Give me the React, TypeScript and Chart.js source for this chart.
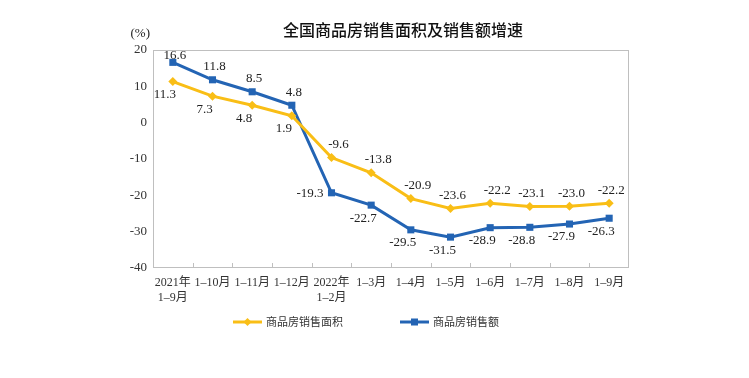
import React, { useEffect, useRef } from 'react';
import { Chart, registerables } from 'chart.js';

Chart.register(...registerables);

// ---- data ----
const categories: (string | string[])[] = [
  ['2021年', '1–9月'], '1–10月', '1–11月', '1–12月', ['2022年', '1–2月'],
  '1–3月', '1–4月', '1–5月', '1–6月', '1–7月', '1–8月', '1–9月',
];
const areaGrowth = [11.3, 7.3, 4.8, 1.9, -9.6, -13.8, -20.9, -23.6, -22.2, -23.1, -23.0, -22.2];
const salesGrowth = [16.6, 11.8, 8.5, 4.8, -19.3, -22.7, -29.5, -31.5, -28.9, -28.8, -27.9, -26.3];
const seriesNames = ['商品房销售面积', '商品房销售额'];
const yMin = -40;
const yMax = 20;
const yStep = 10;
const titleText = '全国商品房销售面积及销售额增速';
const unitText = '(%)';

// label placement codes (style, not data)
const areaPlacement = ['bl', 'bl', 'bl', 'bl', 'ar', 'ar', 'ar', 'a', 'ar', 'a', 'a', 'a'];
const salesPlacement = ['at', 'a', 'a', 'a', 'l', 'bl', 'bl', 'bl', 'bl', 'bl', 'bl', 'bl'];

const YELLOW = '#F9BE16';
const BLUE = '#2364B4';
const AXIS = '#BFBFBF';
const TEXT = '#222222';
const SERIF = '"Liberation Serif", "Noto Sans CJK SC", serif';

const decorPlugin = {
  id: 'decor',
  beforeDatasetsDraw(chart: any) {
    const { ctx, chartArea } = chart;
    const { left, right, top, bottom } = chartArea;
    ctx.save();
    ctx.strokeStyle = AXIS;
    ctx.lineWidth = 1;
    ctx.strokeRect(left + 0.5, top + 0.5, right - left - 1, bottom - top - 1);
    const xs = chart.scales.x;
    ctx.beginPath();
    for (let i = 1; i < categories.length; i++) {
      const x = Math.round((xs.getPixelForTick(i - 1) + xs.getPixelForTick(i)) / 2) + 0.5;
      ctx.moveTo(x, bottom);
      ctx.lineTo(x, bottom - 5);
    }
    ctx.stroke();
    ctx.restore();
  },
  afterDatasetsDraw(chart: any) {
    const { ctx } = chart;
    ctx.save();
    ctx.font = '13px ' + SERIF;
    ctx.fillStyle = TEXT;
    ctx.textBaseline = 'middle';
    const draw = (dsIndex: number, values: number[], placement: string[]) => {
      const meta = chart.getDatasetMeta(dsIndex);
      meta.data.forEach((pt: any, i: number) => {
        const txt = values[i].toFixed(1);
        const p = placement[i];
        let x = pt.x;
        let y = pt.y;
        ctx.textAlign = 'center';
        if (p === 'bl') { x -= 8; y += 13; }
        else if (p === 'a') { x += 2; y -= 13; }
        else if (p === 'at') { x += 2; y -= 7; }
        else if (p === 'ar') { x += 7; y -= 13; }
        else if (p === 'l') { ctx.textAlign = 'right'; x -= 8; y += 1; }
        ctx.fillText(txt, x, y);
      });
    };
    draw(0, areaGrowth, areaPlacement);
    draw(1, salesGrowth, salesPlacement);
    ctx.restore();
  },
  afterDraw(chart: any) {
    const { ctx, chartArea } = chart;
    ctx.save();
    // title
    ctx.font = '500 16px "Noto Sans CJK SC", sans-serif';
    ctx.fillStyle = '#111111';
    ctx.textAlign = 'center';
    ctx.textBaseline = 'middle';
    ctx.fillText(titleText, 403, 30);
    // unit
    ctx.font = '13px ' + SERIF;
    ctx.fillStyle = TEXT;
    ctx.textAlign = 'right';
    ctx.fillText(unitText, chartArea.left - 3, 34);
    // legend
    const ly = 322;
    const items = [
      { name: seriesNames[0], color: YELLOW, style: 'diamond', x: 233 },
      { name: seriesNames[1], color: BLUE, style: 'square', x: 400 },
    ];
    items.forEach((it) => {
      ctx.strokeStyle = it.color;
      ctx.fillStyle = it.color;
      ctx.lineWidth = 3;
      ctx.beginPath();
      ctx.moveTo(it.x, ly);
      ctx.lineTo(it.x + 29, ly);
      ctx.stroke();
      const cx = it.x + 14.5;
      if (it.style === 'diamond') {
        ctx.beginPath();
        ctx.moveTo(cx, ly - 4);
        ctx.lineTo(cx + 4, ly);
        ctx.lineTo(cx, ly + 4);
        ctx.lineTo(cx - 4, ly);
        ctx.closePath();
        ctx.fill();
      } else {
        ctx.fillRect(cx - 3.5, ly - 3.5, 7, 7);
      }
      ctx.font = '11px "Noto Sans CJK SC", sans-serif';
      ctx.fillStyle = '#333333';
      ctx.textAlign = 'left';
      ctx.textBaseline = 'middle';
      ctx.fillText(it.name, it.x + 33, ly);
    });
    ctx.restore();
  },
};

export default function App() {
  const ref = useRef<HTMLCanvasElement | null>(null);
  useEffect(() => {
    if (!ref.current) return;
    const chart = new Chart(ref.current, {
      type: 'line',
      data: {
        labels: categories,
        datasets: [
          {
            label: seriesNames[0],
            data: areaGrowth,
            borderColor: YELLOW,
            backgroundColor: YELLOW,
            borderWidth: 3,
            pointStyle: 'rectRot',
            pointRadius: 4.5,
            pointBorderWidth: 0,
            tension: 0,
          },
          {
            label: seriesNames[1],
            data: salesGrowth,
            borderColor: BLUE,
            backgroundColor: BLUE,
            borderWidth: 3,
            pointStyle: 'rect',
            pointRadius: 5,
            pointBorderWidth: 0,
            tension: 0,
          },
        ],
      },
      options: {
        responsive: false,
        animation: false,
        layout: { padding: { left: 0, right: 120, top: 50, bottom: 70 } },
        plugins: {
          legend: { display: false },
          title: { display: false },
          tooltip: { enabled: false },
        },
        scales: {
          x: {
            offset: true,
            border: { display: false },
            grid: { display: false, drawTicks: false },
            ticks: {
              padding: 8,
              color: '#333333',
              font: { size: 12, family: SERIF },
              maxRotation: 0,
              autoSkip: false,
            },
            afterFit: (s: any) => { s.height = 40; },
          },
          y: {
            min: yMin,
            max: yMax,
            border: { display: false },
            grid: { display: false, drawTicks: false },
            ticks: {
              stepSize: yStep,
              padding: 6,
              color: '#333333',
              font: { size: 13, family: SERIF },
            },
            afterFit: (s: any) => { s.width = 153; },
          },
        },
      },
      plugins: [decorPlugin],
    });
    return () => chart.destroy();
  }, []);
  return (
    <div style={{ position: 'fixed', left: 0, top: 0, width: 749, height: 378, background: '#fff' }}>
      <canvas ref={ref} width={749} height={378} style={{ display: 'block' }} />
    </div>
  );
}
